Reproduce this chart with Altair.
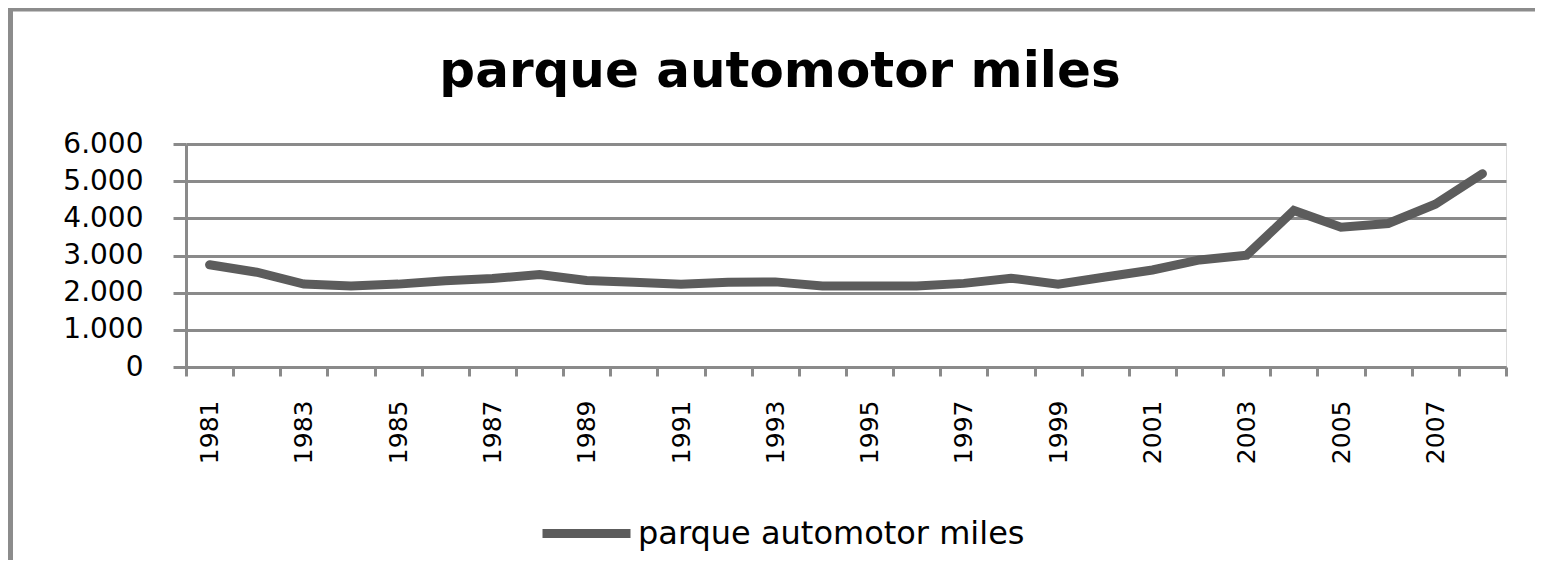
import altair as alt
import pandas as pd

years = [str(y) for y in range(1981, 2009)]
values = [2750, 2550, 2230, 2180, 2230, 2320, 2380, 2490, 2330, 2280,
          2225, 2280, 2290, 2180, 2180, 2180, 2250, 2390, 2230, 2420,
          2610, 2880, 3010, 4210, 3760, 3860, 4380, 5200]
series_name = "parque automotor miles"
chart_title = ["parque automotor miles"]
y_ticks = [0, 1000, 2000, 3000, 4000, 5000, 6000]

df = pd.DataFrame({"year": years, "value": values, "serie": [series_name] * len(years)})
title_df = pd.DataFrame({"t": chart_title})

FONT = "DejaVu Sans"
GRID = "#8a8a8a"
LINE = "#5c5c5c"

line = alt.Chart(df).mark_line(strokeWidth=9, strokeCap="round", strokeJoin="miter").encode(
    x=alt.X("year:O", sort=years,
            scale=alt.Scale(type="band", paddingInner=0, paddingOuter=0),
            axis=alt.Axis(title=None, tickBand="extent", labelAngle=270,
                          labelAlign="right", labelBaseline="middle",
                          labelExpr="toNumber(datum.value) % 2 == 1 ? datum.label : ''",
                          labelOverlap=False, labelFont=FONT, labelFontSize=25,
                          labelColor="black", labelPadding=24, tickSize=9,
                          tickWidth=3, tickColor=GRID, domainColor=GRID,
                          domainWidth=3, grid=False)),
    y=alt.Y("value:Q", scale=alt.Scale(domain=[0, 6000], nice=False),
            axis=alt.Axis(title=None, values=y_ticks,
                          labelExpr="replace(format(datum.value, ','), ',', '.')",
                          labelFont=FONT, labelFontSize=28, labelColor="black",
                          labelPadding=30, tickSize=13, tickWidth=3, tickColor=GRID,
                          domainColor=GRID, domainWidth=3, grid=True,
                          gridColor=GRID, gridWidth=3)),
    color=alt.Color("serie:N", scale=alt.Scale(range=[LINE]),
                    legend=alt.Legend(title=None, orient="none", legendX=352, legendY=341,
                                      symbolType="stroke", symbolSize=7744,
                                      symbolStrokeWidth=9, labelFont=FONT,
                                      labelFontSize=32, labelColor="black",
                                      labelOffset=3, labelLimit=800)),
)

title_text = alt.Chart(title_df).mark_text(
    font=FONT, fontSize=50, fontWeight="bold", color="black",
    align="center", baseline="alphabetic"
).encode(text="t:N", x=alt.value(594), y=alt.value(-57))

frame = alt.Chart(alt.Data(values=[{"a": 1}])).mark_rect(
    filled=False, stroke="#8c8c8c", strokeWidth=5
).encode(
    x=alt.value(-175.5), x2=alt.value(1500),
    y=alt.value(-135), y2=alt.value(600),
)

chart = alt.layer(frame, title_text, line).properties(
    width=1320, height=223,
    autosize=alt.AutoSizeParams(type="none"),
    padding={"left": 178, "top": 136, "right": 29, "bottom": 193},
).configure_view(stroke=None).configure_legend(
    symbolStrokeWidth=9
).configure(background="white")

chart.save("out.html", embed_options={"renderer": "svg", "actions": False})
